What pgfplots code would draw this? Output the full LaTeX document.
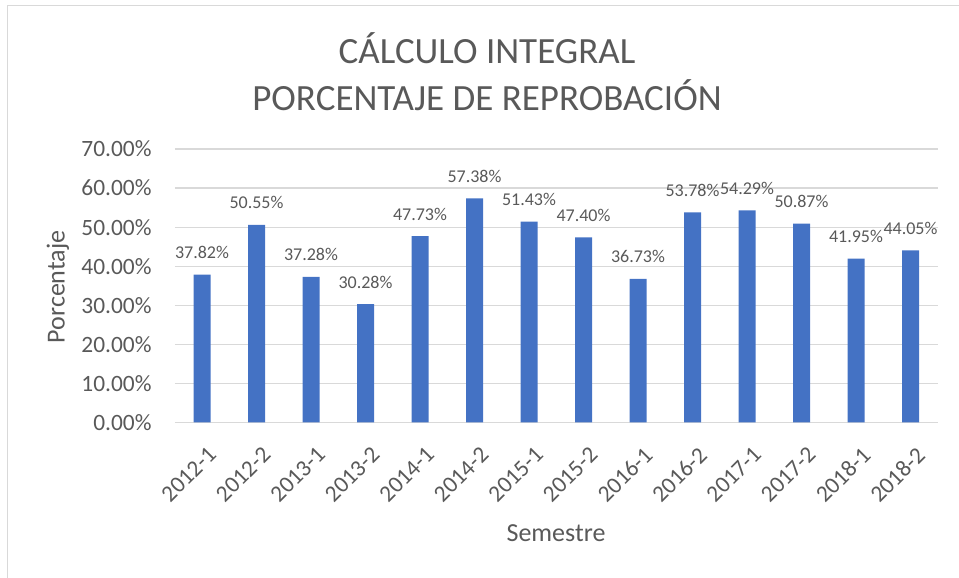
\documentclass[border=0pt]{standalone}
\usepackage{pgfplots}
\pgfplotsset{compat=1.18}
\usepackage{fontspec}
\setmainfont{Carlito}
\definecolor{barblue}{HTML}{4472C4}
\definecolor{txtgray}{HTML}{595959}
\definecolor{gridgray}{HTML}{D9D9D9}
\begin{document}
\begin{tikzpicture}[x=1pt,y=1pt]
\useasboundingbox (0,0) rectangle (959,578);
\draw[gridgray,line width=1.5pt] (7.5,0) -- (7.5,572.5) -- (959,572.5);
\begin{axis}[
  at={(174.75pt,155.5pt)}, anchor=south west,
  scale only axis, width=763pt, height=273.5pt,
  xmin=-0.5, xmax=13.5, ymin=0, ymax=70,
  ytick={0,10,...,70},
  xtick={0,...,13},
  xticklabels={2012-1,2012-2,2013-1,2013-2,2014-1,2014-2,2015-1,2015-2,2016-1,2016-2,2017-1,2017-2,2018-1,2018-2},
  axis line style={draw=none},
  major tick length=0pt,
  ymajorgrids, grid style={gridgray,line width=1.2pt},
  /pgf/number format/assume math mode=true,
  yticklabel={\pgfmathprintnumber[fixed,fixed zerofill,precision=2]{\tick}\%},
  y tick label style={font=\fontsize{23.4}{24}\selectfont, text=txtgray, anchor=east, inner sep=0pt, xshift=-23pt},
  x tick label style={font=\fontsize{23.4}{24}\selectfont, text=txtgray, anchor=north east, inner sep=0pt, xshift=4.7pt, yshift=-22.7pt, rotate=45},
  clip=false,
  ybar, bar width=17pt,
  nodes near coords={\pgfmathprintnumber[fixed,fixed zerofill,precision=2]{\pgfplotspointmeta}\%},
  every node near coord/.style={font=\fontsize{18}{18}\selectfont, text=txtgray, anchor=base, inner sep=0pt, yshift=16pt},
]
\addplot[fill=barblue, draw=none] coordinates {
(0,37.82) (1,50.55) (2,37.28) (3,30.28) (4,47.73) (5,57.38) (6,51.43)
(7,47.40) (8,36.73) (9,53.78) (10,54.29) (11,50.87) (12,41.95) (13,44.05)};
\end{axis}
\node[text=txtgray, font=\fontsize{37}{37}\selectfont] at (487,578-48) {CÁLCULO INTEGRAL};
\node[text=txtgray, font=\fontsize{37}{37}\selectfont] at (487,578-95) {PORCENTAJE DE REPROBACIÓN};
\node[text=txtgray, font=\fontsize{26}{26}\selectfont, rotate=90] at (58,578-287) {Porcentaje};
\node[text=txtgray, font=\fontsize{26}{26}\selectfont] at (556,578-533) {Semestre};
\end{tikzpicture}
\end{document}
